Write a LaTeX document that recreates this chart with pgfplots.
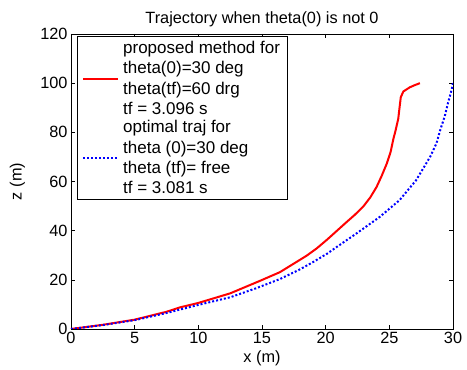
\documentclass[border=0pt]{standalone}
\usepackage{fontspec}
\setmainfont{Liberation Sans}
\usepackage{pgfplots}
\pgfplotsset{compat=1.18}
\begin{document}
\begin{tikzpicture}[font=\fontsize{16.3bp}{19.4bp}\selectfont]
\path[use as bounding box] (-71bp,-41bp) rectangle (396bp,329bp);
\begin{axis}[
  at={(0,0)}, anchor=south west,
  width=382bp, height=295bp, scale only axis,
  xmin=0, xmax=30, ymin=0, ymax=120,
  xtick={0,5,...,30}, ytick={0,20,...,120},
  tick align=inside, major tick length=4bp,
  /pgf/number format/assume math mode=true,
  axis line style={line width=0.9bp},
  tick style={line width=0.6bp, black},
  title={Trajectory when theta(0) is not 0},
  title style={yshift=-2bp},
  xlabel={x (m)}, ylabel={z (m)},
  ylabel style={at={(axis description cs:-0.14,0.5)}, anchor=center},
  legend cell align=left,
  legend style={at={(0.015,0.993)}, anchor=north west, draw=black, line width=0.9bp,
    inner xsep=5bp, inner ysep=3bp, row sep=1bp, column sep=2bp, cells={align=left},
    font=\fontsize{17bp}{20.1bp}\selectfont},
  legend image code/.code={\draw[#1] (0bp,0bp) -- (35bp,0bp);},
]
\addplot[red, line width=2bp] coordinates {
(0,0)(2.5,1.7)(5,3.8)(7.5,7.0)(8.56,8.8)(10,10.6)(12.5,14.5)(14.8,19.5)(16.4,23.1)
(18.5,29.8)(19.3,32.8)(20.1,36.3)(20.85,39.8)(21.6,43.3)(22.3,46.5)(22.95,49.8)(23.5,53.5)(24.0,57.8)(24.4,62.3)(24.8,67.3)
(25.1,72)(25.3,76.9)(25.5,81)(25.7,85.5)(25.8,90)(25.9,94.3)(26.1,96.6)(26.6,98.3)(27.0,99.2)(27.4,100)
};
\addlegendentry{proposed method for\\theta(0)=30 deg\\theta(tf)=60 drg\\tf = 3.096 s}
\addplot[blue, line width=2bp, dash pattern=on 2bp off 2bp] coordinates {
(0,0)(2.5,1.6)(5,3.6)(7.5,6.5)(8.56,7.9)(10,9.8)(12.5,12.9)(14.5,16.5)(16.4,20.3)
(18,24.3)(19,27.2)(20.1,30.6)(20.85,33.3)(22.4,38.8)(24.25,45.6)(25.8,52.4)(27.1,60.5)(28.2,70)(28.7,75.5)(29.0,81)(29.35,86.5)(29.6,91.8)(29.85,96.5)(30,100)
};
\addlegendentry{optimal traj for\\theta (0)=30 deg\\theta (tf)= free\\tf = 3.081 s}
\end{axis}
\end{tikzpicture}
\end{document}
